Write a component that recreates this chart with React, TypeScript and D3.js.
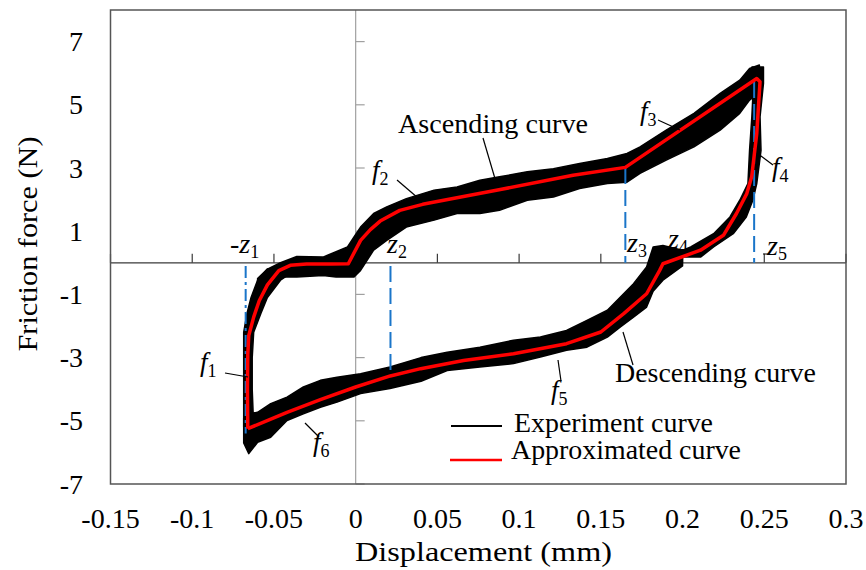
import React from 'react';
import * as d3 from 'd3';

// ---------- data ----------
const xTicks = [-0.15, -0.1, -0.05, 0, 0.05, 0.1, 0.15, 0.2, 0.25, 0.3];
const xTickLabels = ['-0.15', '-0.1', '-0.05', '0', '0.05', '0.1', '0.15', '0.2', '0.25', '0.3'];
const yTicks = [-7, -5, -3, -1, 1, 3, 5, 7];

// Approximated (red) curve, one closed loop
const approxX = [-0.066, -0.0662, -0.066, -0.0654, -0.0624, -0.059, -0.054, -0.047, -0.04, -0.03, -0.015, -0.0045,
  0.003, 0.009, 0.015, 0.027, 0.041, 0.0885, 0.133, 0.165, 0.2454, 0.2474, 0.2454, 0.2423, 0.2393, 0.233, 0.225,
  0.211, 0.188, 0.186, 0.178, 0.164, 0.15, 0.129, 0.0966, 0.066, 0.0398, 0.0212, 0.0, -0.0216, -0.042, -0.066];
const approxY = [-5.25, -4.0, -2.9, -2.3, -1.72, -1.2, -0.7, -0.25, -0.08, -0.04, -0.04, -0.03,
  0.71, 1.05, 1.32, 1.66, 1.85, 2.32, 2.77, 3.02, 5.83, 5.73, 4.09, 2.72, 2.19, 1.56, 0.87,
  0.4, -0.03, -0.24, -0.98, -1.61, -2.19, -2.56, -2.88, -3.09, -3.35, -3.58, -3.93, -4.33, -4.73, -5.25];

// Experiment (black) band — vertical rise at -z1 (by force)
const riseY = [-5.2, -4.0, -3.0, -2.2, -1.6, -1.1, -0.55, -0.2];
const riseLeft = [-0.0685, -0.0685, -0.0685, -0.0685, -0.0665, -0.064, -0.06, -0.054];
const riseRight = [-0.0624, -0.0633, -0.0633, -0.0624, -0.058, -0.054, -0.046, -0.036];

// Ascending branch (by displacement)
const ascX = [-0.06, -0.054, -0.046, -0.036, -0.02, -0.012, -0.005, -0.001, 0.003, 0.011, 0.019, 0.031, 0.048, 0.062,
  0.076, 0.088, 0.105, 0.121, 0.137, 0.154, 0.166, 0.174, 0.19, 0.207, 0.223, 0.235, 0.241, 0.247];
const ascLow = [-1.1, -0.8, -0.45, -0.45, -0.4, -0.45, -0.45, -0.45, -0.24, 0.4, 0.71, 1.13, 1.35, 1.56,
  1.56, 1.66, 1.98, 2.08, 2.35, 2.51, 2.55, 2.83, 3.25, 3.67, 4.2, 4.73, 5.15, 5.4];
const ascHigh = [-0.5, -0.2, 0.0, 0.2, 0.18, 0.35, 0.5, 0.82, 1.13, 1.56, 1.77, 2.03, 2.3, 2.4,
  2.61, 2.72, 2.88, 2.98, 3.14, 3.3, 3.46, 3.67, 4.2, 4.73, 5.36, 5.78, 6.15, 6.26];

// Drop at z5 (by force)
const dropY = [6.2, 5.68, 4.62, 3.56, 2.51, 1.98, 1.45, 0.92, 0.5, 0.18];
const dropLeft = [0.2425, 0.2434, 0.2424, 0.241, 0.24, 0.235, 0.229, 0.219, 0.205, 0.19];
const dropRight = [0.2495, 0.2495, 0.2474, 0.248, 0.2454, 0.243, 0.239, 0.231, 0.219, 0.211];

// Descending branch (by displacement)
const descX = [0.2, 0.188, 0.182, 0.178, 0.17, 0.162, 0.154, 0.1415, 0.129, 0.113, 0.0966, 0.076, 0.056, 0.04,
  0.021, 0.003, -0.0114, -0.0216, -0.032, -0.042, -0.052, -0.06, -0.0654, -0.0685];
const descHigh = [0.4, 0.55, 0.5, -0.13, -0.66, -1.08, -1.5, -1.82, -2.14, -2.35, -2.45, -2.67, -2.83, -3.0,
  -3.3, -3.51, -3.62, -3.72, -3.93, -4.25, -4.46, -4.73, -4.78, -4.9];
const descLow = [-0.1, -0.55, -0.9, -1.4, -1.72, -2.03, -2.35, -2.67, -2.77, -2.98, -3.19, -3.3, -3.41, -3.75,
  -3.98, -4.14, -4.41, -4.57, -4.78, -4.99, -5.52, -5.68, -6.04, -5.7];

// Boundary markers
const zX = [-0.0673, 0.0213, 0.165, 0.2438];
const zTop = [-0.1, -0.1, 3.0, 5.72];
const zBottom = [-5.4, -3.6, 0, 0];

const FONT = "'Liberation Serif', 'Times New Roman', Times, serif";

export default function App() {
  const x = d3.scaleLinear().domain([-0.15, 0.3]).range([110.5, 846]);
  const y = d3.scaleLinear().domain([-7, 8]).range([484, 10]);

  const line = d3.line<[number, number]>();
  const approxPath = line(approxX.map((v, i) => [x(v), y(approxY[i])]))!;

  const hArea = d3.area<number>().x((i) => x(ascX[i])).y0((i) => y(ascLow[i])).y1((i) => y(ascHigh[i]));
  const ascPath = hArea(ascX.map((_, i) => i))!;
  const dArea = d3.area<number>().x((i) => x(descX[i])).y0((i) => y(descLow[i])).y1((i) => y(descHigh[i]));
  const descPath = dArea(descX.map((_, i) => i))!;
  const riseArea = d3.area<number>().y((i) => y(riseY[i])).x0((i) => x(riseLeft[i])).x1((i) => x(riseRight[i]));
  const risePath = riseArea(riseY.map((_, i) => i))!;
  const dropArea = d3.area<number>().y((i) => y(dropY[i])).x0((i) => x(dropLeft[i])).x1((i) => x(dropRight[i]));
  const dropPath = dropArea(dropY.map((_, i) => i))!;

  const x0 = x(0);
  const y0 = y(0);

  const ital = { fontStyle: 'italic' as const };
  const sub = (t: string, dy = 6) => (
    <tspan fontStyle="normal" fontSize={18} dy={dy}>{t}</tspan>
  );

  return (
    <svg width={866} height={570} style={{ position: 'absolute', left: 0, top: 0, background: '#fff', fontFamily: FONT }}>
      <rect x={0} y={0} width={866} height={570} fill="#fff" />
      {/* zero axes */}
      <line x1={x0} x2={x0} y1={10} y2={484} stroke="#a0a0a0" strokeWidth={1.2} />
      <line x1={110.5} x2={846} y1={y0} y2={y0} stroke="#3a3a3a" strokeWidth={1.3} />
      {xTicks.map((t) => (
        <line key={'xt' + t} x1={x(t)} x2={x(t)} y1={y0} y2={y0 - 9} stroke="#3a3a3a" strokeWidth={1.2} />
      ))}
      {yTicks.map((t) => (
        <line key={'yt' + t} x1={x0} x2={x0 + 9} y1={y(t)} y2={y(t)} stroke="#a0a0a0" strokeWidth={1.2} />
      ))}

      {/* experiment band */}
      <g fill="#000" stroke="#000" strokeWidth={1.5} strokeLinejoin="round">
        <path d={risePath} />
        <path d={ascPath} />
        <path d={dropPath} />
        <path d={descPath} />
      </g>

      {/* boundary markers */}
      {zX.map((v, i) => (
        <line key={'z' + i} x1={x(v)} x2={x(v)} y1={y(zTop[i])} y2={y(zBottom[i])}
          stroke="#1a75c9" strokeWidth={2}
          strokeDasharray={i === 0 ? '12,4,3,4' : '16,6'} />
      ))}

      {/* approximated curve */}
      <path d={approxPath} fill="none" stroke="#ff0000" strokeWidth={3.5} strokeLinejoin="round" />

      {/* frame */}
      <rect x={110.5} y={10} width={735.5} height={474} fill="none" stroke="#555" strokeWidth={1.5} />

      {/* tick labels */}
      {xTicks.map((t, i) => (
        <text key={'xl' + t} x={x(t)} y={528} fontSize={28} textAnchor="middle" fill="#000">{xTickLabels[i]}</text>
      ))}
      {yTicks.map((t) => (
        <text key={'yl' + t} x={83} y={y(t) + 9.5} fontSize={28} textAnchor="end" fill="#000">{t}</text>
      ))}

      {/* axis titles */}
      <text x={355} y={561} fontSize={28} textLength={257} lengthAdjust="spacingAndGlyphs">Displacement  (mm)</text>
      <text transform="translate(37,244) rotate(-90)" fontSize={28} textAnchor="middle" textLength={215}
        lengthAdjust="spacingAndGlyphs">Friction force (N)</text>

      {/* z labels */}
      <text x={230} y={253} fontSize={28}>-<tspan {...ital}>z</tspan>{sub('1', 5)}</text>
      <text x={387} y={253} fontSize={28}><tspan {...ital}>z</tspan>{sub('2', 5)}</text>
      <text x={627} y={252} fontSize={28}><tspan {...ital}>z</tspan>{sub('3', 5)}</text>
      <text x={668} y={248} fontSize={28}><tspan {...ital}>z</tspan>{sub('4', 5)}</text>
      <text x={767} y={255} fontSize={28}><tspan {...ital}>z</tspan>{sub('5', 5)}</text>
      <line x1={763} x2={769} y1={254} y2={254} stroke="#000" strokeWidth={1} />

      {/* f labels */}
      <text x={200} y={371} fontSize={27}><tspan {...ital}>f</tspan>{sub('1')}</text>
      <line x1={225} y1={373} x2={248} y2={377} stroke="#000" strokeWidth={1.2} />
      <text x={372} y={179} fontSize={27}><tspan {...ital}>f</tspan>{sub('2')}</text>
      <line x1={397} y1={180} x2={418} y2={198} stroke="#000" strokeWidth={1.2} />
      <text x={640} y={120} fontSize={27}><tspan {...ital}>f</tspan>{sub('3')}</text>
      <line x1={658} y1={120} x2={680} y2={130} stroke="#000" strokeWidth={1.2} />
      <text x={772} y={176} fontSize={27}><tspan {...ital}>f</tspan>{sub('4')}</text>
      <line x1={757} y1={153} x2={773} y2={165} stroke="#000" strokeWidth={1.2} />
      <text x={551} y={399} fontSize={27}><tspan {...ital}>f</tspan>{sub('5')}</text>
      <line x1={558} y1={360} x2={561} y2={381} stroke="#000" strokeWidth={1.2} />
      <text x={313} y={451} fontSize={27}><tspan {...ital}>f</tspan>{sub('6')}</text>
      <line x1={305} y1={423} x2={319} y2={437} stroke="#000" strokeWidth={1.2} />

      {/* curve annotations */}
      <text x={398} y={133} fontSize={27} textLength={190} lengthAdjust="spacingAndGlyphs">Ascending curve</text>
      <line x1={483} y1={138} x2={496} y2={182} stroke="#000" strokeWidth={1.2} />
      <text x={615} y={382} fontSize={27} textLength={201} lengthAdjust="spacingAndGlyphs">Descending curve</text>
      <line x1={623} y1={332} x2={633} y2={365} stroke="#000" strokeWidth={1.2} />

      {/* legend */}
      <line x1={451} x2={502} y1={426} y2={426} stroke="#000" strokeWidth={2} />
      <text x={514} y={432} fontSize={27} textLength={199} lengthAdjust="spacingAndGlyphs">Experiment curve</text>
      <line x1={450} x2={502} y1={460} y2={460} stroke="#ff0000" strokeWidth={2.5} />
      <text x={511} y={459} fontSize={27} textLength={230} lengthAdjust="spacingAndGlyphs">Approximated curve</text>
    </svg>
  );
}
